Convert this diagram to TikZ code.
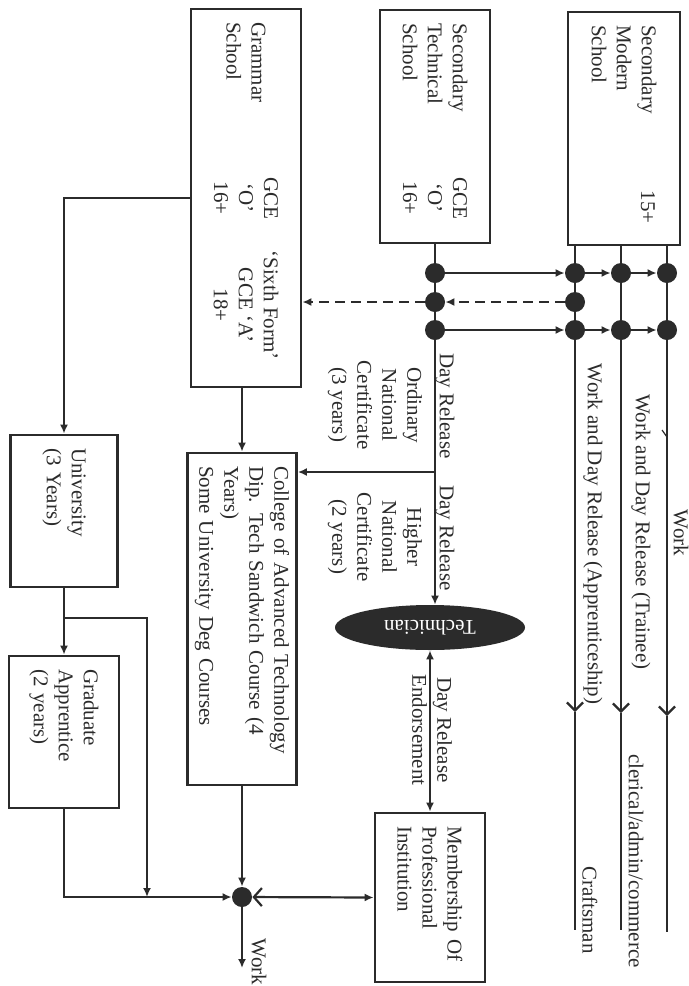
\documentclass[tikz,border=0pt]{standalone}
\usepackage{fontspec}
\setmainfont{Liberation Serif}
\usepackage{graphicx}
\usetikzlibrary{arrows.meta,shapes.geometric}
\definecolor{ink}{HTML}{2B2B2B}
\newcommand{\diafont}{\fontsize{10.5}{12.5}\selectfont}
\tikzset{
  box/.style={draw=ink,line width=1.4pt,rotate=-90,inner xsep=6.5pt,inner ysep=0pt,align=left,font=\diafont,text=ink},
  lbl/.style={rotate=-90,inner sep=0pt,align=center,font=\diafont,text=ink},
  dot/.style={circle,fill=ink,minimum size=10pt,inner sep=0pt},
  wire/.style={draw=ink,line width=1.1pt},
  handtip/.style={-{Straight Barb[length=4pt,width=8pt]}}
}
\begin{document}
\begin{tikzpicture}[x=0.5pt,y=-0.5pt,>={Latex[length=4.5pt,width=4pt]}]
      \fill[white] (0,0) rectangle (688,986);
      \node[box,text width=103.5pt,minimum height=56pt] (modern) at (624,128.5) {Secondary\\Modern\\School};
      \node[box,text width=103.5pt,minimum height=55pt] (tech) at (435,126.5) {Secondary\\Technical\\School};
      \node[box,text width=176pt,minimum height=55pt] (grammar) at (246,198) {Grammar\\School};
      \node[box,text width=153pt,minimum height=54.5pt] (college) at (242,619) {College of Advanced Technology\\Dip. Tech Sandwich Course (4\\Years)\\Some University Deg Courses};
      \node[box,text width=63pt,minimum height=53.5pt] (univ) at (64,511) {University\\(3 Years)};
      \node[box,text width=63pt,minimum height=55pt] (grad) at (64,732) {Graduate\\Apprentice\\(2 years)};
      \node[box,text width=71.5pt,minimum height=55pt] (member) at (430,897.5) {Membership Of\\Professional\\Institution};
      \node[ellipse,fill=ink,minimum width=95pt,minimum height=22.5pt,inner sep=0pt,text=white,font=\diafont] (techn) at (430,627.5) {\rotatebox{180}{Technician}};

      \node[lbl] (modq) at (648,207) {15+};
      \node[lbl] (techq) at (435,198) {GCE\\`O'\\16+};
      \node[lbl] (gramo) at (246,198) {GCE\\`O'\\16+};
      \node[lbl] (grama) at (246,305) {`Sixth Form'\\GCE `A'\\18+};

      \foreach \c/\xx in {t/435,a/575,b/621,c/667} {
        \node[dot] (\c1) at (\xx,273) {};
        \node[dot] (\c3) at (\xx,330) {};
      }
      \node[dot] (t2) at (435,302) {};
      \node[dot] (a2) at (575,302) {};
      \node[dot] (hub) at (242,897) {};

      \coordinate (ah) at (575,712);
      \coordinate (bh) at (621,713);
      \coordinate (ch) at (667,716);
      \coordinate (aend) at (575,930);
      \coordinate (bend) at (621,930);
      \coordinate (cend) at (667,932);
      \draw[wire] (a1 |- modern.east) -- (a3);
      \draw[wire] (b1 |- modern.east) -- (b3);
      \draw[wire] (c1 |- modern.east) -- (c3);
      \draw[wire,handtip] (a3) -- (ah);
      \draw[wire,handtip] (b3) -- (bh);
      \draw[wire,handtip] (c3) -- (ch);
      \draw[wire] (ah) -- (aend);
      \draw[wire] (bh) -- (bend);
      \draw[wire] (ch) -- (cend);
      \draw[wire,line width=0.6pt] (667,437) -- (662,430);

      \draw[wire] (tech.east) -- (t3);
      \draw[wire,->] (t1) -- (a1);
      \draw[wire,->] (a1) -- (b1);
      \draw[wire,->] (b1) -- (c1);
      \draw[wire,->] (t3) -- (a3);
      \draw[wire,->] (a3) -- (b3);
      \draw[wire,->] (b3) -- (c3);
      \draw[wire,dashed,dash pattern=on 5pt off 3pt,line width=1.4pt,->] (a2) -- (t2);
      \draw[wire,dashed,dash pattern=on 5pt off 3pt,line width=1.4pt,->] (t2) -- (t2 -| grammar.north);
      \draw[wire,->] (t3) -- (t3 |- techn.north);
      \coordinate (tb) at (435,472);
      \draw[wire,->] (tb) -- (tb -| college.north);

      \draw[wire,->] (grammar.south) -| (univ.west);
      \draw[wire,->] (college.west |- grammar.east) -- (college.west);
      \draw[wire,->] (univ.east) -- (grad.west);
      \coordinate (ub) at (64,618);
      \coordinate (ubr) at (147,618);
      \draw[wire,->] (ub) -- (ubr) -- (ubr |- hub);
      \draw[wire,->] (grad.east) |- (hub);
      \draw[wire,->] (college.east) -- (hub);
      \coordinate (workend) at (242,968);
      \draw[wire,->] (hub) -- (workend);
      \draw[wire,{Straight Barb[length=4pt,width=9pt]}->] (hub) -- (member.south);
      \draw[wire,<->] (techn.south) -- (member.west);

      \node[lbl] (dr1) at (445,406) {Day Release};
      \node[lbl] (onc) at (375,405) {Ordinary\\National\\Certificate\\(3 years)};
      \node[lbl] (dr2) at (445,538) {Day Release};
      \node[lbl] (hnc) at (375,537) {Higher\\National\\Certificate\\(2 years)};
      \node[lbl] (appr) at (593,534) {Work and Day Release (Apprenticeship)};
      \node[lbl] (trainee) at (641,532) {Work and Day Release (Trainee)};
      \node[lbl] (workl) at (681,533) {Work};
      \node[lbl] (cler) at (636,861) {clerical/admin/commerce};
      \node[lbl] (craft) at (590,910) {Craftsman};
      \node[lbl] (endorse) at (432,730) {Day Release\\Endorsement};
      \node[lbl] (work2) at (259,962) {Work};
    \end{tikzpicture}
\end{document}
